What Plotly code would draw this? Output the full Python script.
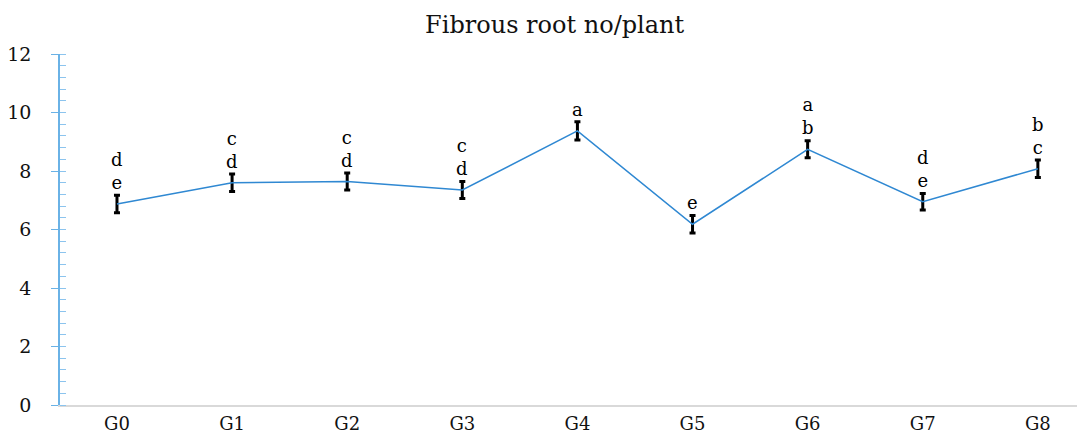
import plotly.graph_objects as go

groups = ["G0", "G1", "G2", "G3", "G4", "G5", "G6", "G7", "G8"]
means = [6.87, 7.60, 7.64, 7.35, 9.37, 6.18, 8.74, 6.95, 8.08]
errors = [0.30, 0.30, 0.29, 0.29, 0.31, 0.30, 0.29, 0.28, 0.30]
letters = ["de", "cd", "cd", "cd", "a", "e", "ab", "de", "bc"]
y_ticks = [0, 2, 4, 6, 8, 10, 12]

FONT = "DejaVu Serif"

fig = go.Figure()
fig.add_trace(go.Scatter(
    x=groups, y=means, mode="lines",
    line=dict(color="#2F88D2", width=1.5),
    error_y=dict(type="data", array=errors, visible=True,
                 color="#000000", thickness=3, width=3),
    showlegend=False, hoverinfo="skip",
))

for g, m, lt in zip(groups, means, letters):
    fig.add_annotation(
        x=g, y=m, text="<br>".join(list(lt)), showarrow=False,
        xanchor="center", yanchor="bottom", yshift=9,
        font=dict(family=FONT, size=18, color="#000000"),
    )

fig.update_layout(
    width=1077, height=436,
    margin=dict(l=60, r=0, t=54, b=31),
    paper_bgcolor="white", plot_bgcolor="white",
    title=dict(text="Fibrous root no/plant", x=0.515, xref="container",
               xanchor="center", y=1 - 25 / 436, yref="container",
               yanchor="middle",
               font=dict(family=FONT, size=24, color="#111111")),
    xaxis=dict(
        type="category", range=[-0.495, 8.34], automargin=False,
        showgrid=False, zeroline=False,
        showline=True, linecolor="#D9D9D9", linewidth=1.5,
        ticks="", ticklabelstandoff=2,
        tickfont=dict(family=FONT, size=18, color="#111111"),
    ),
    yaxis=dict(
        range=[0, 12], tickvals=y_ticks, automargin=False,
        showgrid=False, zeroline=False,
        showline=True, linecolor="#6AB2E6", linewidth=1.5,
        ticks="outside", ticklen=7, tickcolor="#6AB2E6", tickwidth=1.2,
        ticklabelstandoff=16,
        minor=dict(ticks="inside", dtick=0.4, ticklen=6,
                   tickcolor="#8CC4EE", tickwidth=1, showgrid=False),
        tickfont=dict(family=FONT, size=19, color="#111111"),
    ),
)

fig.write_html("out.html")
